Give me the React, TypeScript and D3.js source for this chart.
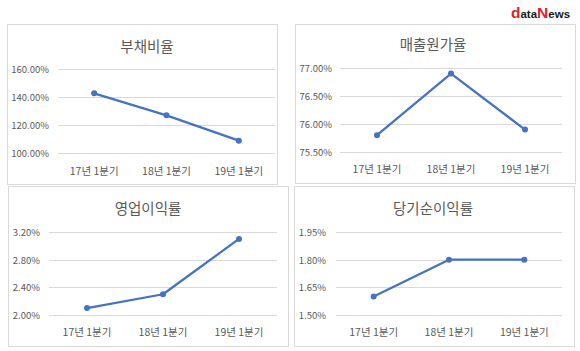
import React from 'react';
import * as d3 from 'd3';

// categories and values
const quarters = ['17년 1분기', '18년 1분기', '19년 1분기'];

const debtRatio = [142.6, 126.9, 108.8];
const costRatio = [75.8, 76.9, 75.9];
const opMargin = [2.1, 2.3, 3.1];
const netMargin = [1.6, 1.8, 1.8];

const debtTicks = [100, 120, 140, 160];
const costTicks = [75.5, 76, 76.5, 77];
const opTicks = [2.0, 2.4, 2.8, 3.2];
const netTicks = [1.5, 1.65, 1.8, 1.95];

const titles = ['부채비율', '매출원가율', '영업이익률', '당기순이익률'];

const LINE = '#4472C4';
const TEXT = '#595959';
const FONT = '"Noto Sans CJK KR", "Noto Sans", sans-serif';

type PanelProps = {
  title: string;
  values: number[];
  ticks: number[];
  box: { x0: number; x1: number; y0: number; y1: number };
  plot: { x0: number; x1: number; y0: number; y1: number };
  titleX: number;
  titleY: number;
  labelX: number;
  catY: number;
};

const Panel = ({ title, values, ticks, box, plot, titleX, titleY, labelX, catY }: PanelProps) => {
  const x = d3.scaleBand<string>().domain(quarters).range([plot.x0, plot.x1]);
  const y = d3.scaleLinear()
    .domain([ticks[0], ticks[ticks.length - 1]])
    .range([plot.y1, plot.y0]);
  const pts = values.map((v, i) => [x(quarters[i])! + x.bandwidth() / 2, y(v)] as [number, number]);
  const line = d3.line();

  return (
    <g>
      <rect x={box.x0 + 0.5} y={box.y0 + 0.5} width={box.x1 - box.x0} height={box.y1 - box.y0}
        fill="#fff" stroke="#d9d9d9" strokeWidth={1} />
      <text x={titleX} y={titleY} textAnchor="middle" dominantBaseline="central"
        fontSize={14.5} fill={TEXT} fontFamily={FONT}>{title}</text>
      {ticks.map(t => (
        <g key={t}>
          <line x1={plot.x0} x2={plot.x1} y1={Math.round(y(t)) + 0.5} y2={Math.round(y(t)) + 0.5}
            stroke="#d9d9d9" strokeWidth={1} />
          <text x={labelX} y={y(t)} textAnchor="end" dominantBaseline="central"
            fontSize={9.5} fill={TEXT} fontFamily={FONT}>{t.toFixed(2) + '%'}</text>
        </g>
      ))}
      {quarters.map(q => (
        <text key={q} x={x(q)! + x.bandwidth() / 2} y={catY} textAnchor="middle" dominantBaseline="central"
          fontSize={10.5} fill={TEXT} fontFamily={FONT}>{q}</text>
      ))}
      <path d={line(pts) || ''} fill="none" stroke={LINE} strokeWidth={2.25} strokeLinejoin="round" />
      {pts.map((p, i) => (
        <circle key={i} cx={p[0]} cy={p[1]} r={3} fill={LINE} />
      ))}
    </g>
  );
};

export default function App() {
  return (
    <svg width={580} height={351} style={{ position: 'absolute', left: 0, top: 0, background: '#fff' }}>
      <rect width={580} height={351} fill="#fff" />
      <text x={511} y={17.5} fontFamily='"Liberation Sans", Arial, sans-serif' fontWeight="bold">
        <tspan fill="#e0202a" fontSize={15.5}>d</tspan>
        <tspan fill="#1a1a1a" fontSize={11.5}>ata</tspan>
        <tspan fill="#e0202a" fontSize={15.5}>N</tspan>
        <tspan fill="#1a1a1a" fontSize={11.5}>ews</tspan>
      </text>
      <Panel title={titles[0]} values={debtRatio} ticks={debtTicks}
        box={{ x0: 7, x1: 277, y0: 24, y1: 184 }} plot={{ x0: 58, x1: 275, y0: 69, y1: 153 }}
        titleX={147} titleY={45} labelX={49} catY={170} />
      <Panel title={titles[1]} values={costRatio} ticks={costTicks}
        box={{ x0: 295, x1: 575, y0: 24, y1: 183 }} plot={{ x0: 340, x1: 562, y0: 68, y1: 152 }}
        titleX={433} titleY={43} labelX={332} catY={168} />
      <Panel title={titles[2]} values={opMargin} ticks={opTicks}
        box={{ x0: 8, x1: 288, y0: 186, y1: 346 }} plot={{ x0: 49, x1: 277, y0: 232, y1: 315 }}
        titleX={148} titleY={207} labelX={40} catY={331} />
      <Panel title={titles[3]} values={netMargin} ticks={netTicks}
        box={{ x0: 294, x1: 574, y0: 186, y1: 346 }} plot={{ x0: 336, x1: 562, y0: 232, y1: 315 }}
        titleX={433} titleY={207} labelX={326} catY={331} />
    </svg>
  );
}
